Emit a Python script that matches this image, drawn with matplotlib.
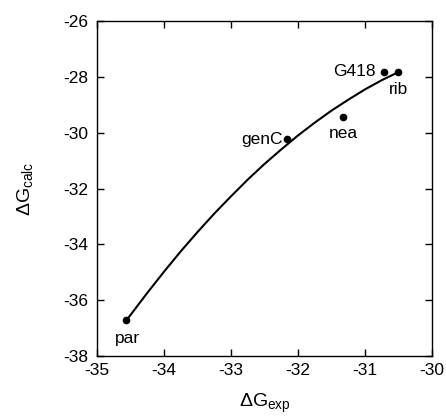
# Figure: calculated vs experimental binding free energy

import matplotlib
matplotlib.use('Agg')
import matplotlib.pyplot as plt

plt.rcParams['font.family'] = ['Liberation Sans', 'DejaVu Sans']
plt.rcParams['mathtext.fontset'] = 'custom'
plt.rcParams['mathtext.rm'] = 'Liberation Sans'
plt.rcParams['mathtext.it'] = 'Liberation Sans'
plt.rcParams['axes.unicode_minus'] = False

# Data points
names = ['par', 'genC', 'nea', 'G418', 'rib']
dg_exp = [-34.56, -32.16, -31.33, -30.72, -30.50]
dg_calc = [-36.72, -30.24, -29.43, -27.82, -27.82]

# Fitted curve
fit_x = [-34.56, -34.25, -34.0, -33.75, -33.5, -33.25, -33.0, -32.75, -32.5,
         -32.25, -32.0, -31.75, -31.5, -31.25, -31.0, -30.75, -30.5]
fit_y = [-36.72, -35.74, -34.98, -34.25, -33.56, -32.90, -32.28, -31.68, -31.12,
         -30.60, -30.10, -29.64, -29.21, -28.82, -28.45, -28.12, -27.83]

# label offsets in pixels and alignment
label_pos = {
    'par': ((1, -18), 'center'),
    'genC': ((-5, 0), 'right'),
    'nea': ((0, -17), 'center'),
    'G418': ((-8, 0), 'right'),
    'rib': ((0, -18), 'center'),
}

fig = plt.figure(figsize=(4.46, 4.16), dpi=100)
ax = fig.add_axes([0.2175, 0.1442, 0.7511, 0.8053])

ax.plot(fit_x, fit_y, color='black', linewidth=1.5)
ax.plot(dg_exp, dg_calc, 'o', color='black', markersize=4.5)

for name, x, y in zip(names, dg_exp, dg_calc):
    off, ha = label_pos[name]
    ax.annotate(name, (x, y), xytext=off, textcoords='offset pixels',
                ha=ha, va='center', fontsize=12.5)

ax.set_xlim(-35, -30)
ax.set_ylim(-38, -26)
ax.set_xticks([-35, -34, -33, -32, -31, -30])
ax.set_yticks([-38, -36, -34, -32, -30, -28, -26])
ax.tick_params(direction='in', length=5, width=1, labelsize=12.5,
               top=True, right=True, pad=5)
ax.tick_params(axis='y', pad=6)
for sp in ax.spines.values():
    sp.set_linewidth(1)

ax.set_xlabel(r'$\Delta\mathrm{G}_{\mathrm{exp}}$', fontsize=14, labelpad=10)
ax.set_ylabel(r'$\Delta\mathrm{G}_{\mathrm{calc}}$', fontsize=14, labelpad=21)

fig.savefig('out.png', dpi=100)
